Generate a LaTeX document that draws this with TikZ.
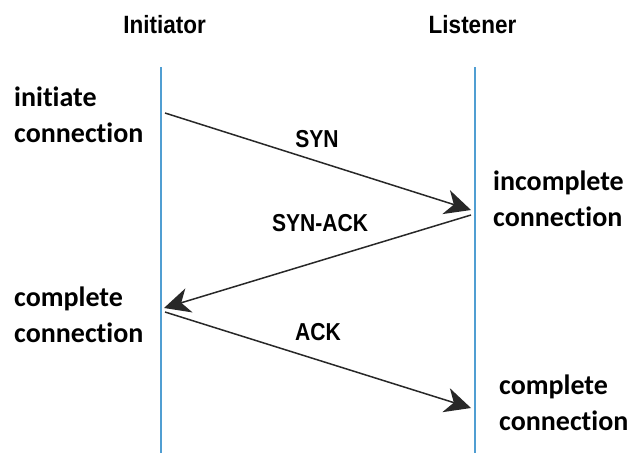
\documentclass[tikz,border=0pt]{standalone}
\usepackage{fontspec}
\usetikzlibrary{arrows.meta}
\newfontfamily\headfont{Liberation Sans}[FakeStretch=0.9]
\newfontfamily\msgfont{Liberation Sans}[FakeStretch=0.86]
\newfontfamily\sidefont{Carlito}[Ligatures=NoCommon]
\definecolor{lifeblue}{RGB}{80,158,210}
\definecolor{msggray}{RGB}{40,40,40}
\begin{document}
\begin{tikzpicture}
    [%%%%%%%%%%%%%%%%%%%%%%%%%%%%%%
        x=1pt,y=-1pt,
        head/.style={font=\headfont\bfseries\fontsize{25}{30}\selectfont,anchor=base},
        msg/.style={font=\msgfont\bfseries\fontsize{24.5}{28}\selectfont,anchor=base},
        side/.style={font=\sidefont\bfseries\fontsize{28}{36}\selectfont,align=left,anchor=base west,inner sep=0pt},
        life/.style={draw=lifeblue,line width=2pt},
        arr/.style={draw=msggray,line width=1.5pt,-{Stealth[length=26pt,width=25pt,inset=8pt]}},
    ]%%%%%%%%%%%%%%%%%%%%%%%%%%%%%%

\useasboundingbox (0,0) rectangle (632,453);

\node[head] (init) at (164.5,33){Initiator};
\node[head] (lstn) at (472.5,33){Listener};

\coordinate (iTop) at (161,67);
\coordinate (iBot) at (161,453);
\coordinate (lTop) at (475,67);
\coordinate (lBot) at (475,453);
\draw[life] (iTop) -- (iBot);
\draw[life] (lTop) -- (lBot);

% base anchor = baseline of the last line
\node[side] (initiate) at (14,142){initiate\\connection};
\node[side] (incompl) at (493,226){incomplete\\connection};
\node[side] (complA) at (14,342){complete\\connection};
\node[side] (complB) at (499,430){complete\\connection};

\coordinate (synA) at (165,113);
\coordinate (synB) at (471,210);
\coordinate (ackA) at (471,215);
\coordinate (ackB) at (164,308);
\coordinate (finA) at (165,312);
\coordinate (finB) at (471,408);

\draw[arr] (synA) -- (synB);
\draw[arr] (ackA) -- (ackB);
\draw[arr] (finA) -- (finB);

\node[msg] (syn) at (317,147){SYN};
\node[msg] (synack) at (320,231){SYN-ACK};
\node[msg] (ack) at (318,340){ACK};
\end{tikzpicture}
\end{document}
